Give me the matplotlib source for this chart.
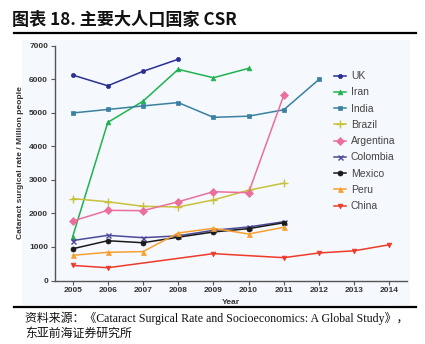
import matplotlib
matplotlib.use("Agg")
import matplotlib.pyplot as plt
from matplotlib.lines import Line2D

plt.rcParams['font.family'] = ['Liberation Sans', 'DejaVu Sans']

countries = ["UK", "Iran", "India", "Brazil", "Argentina", "Colombia", "Mexico", "Peru", "China"]

uk_years = [2005, 2006, 2007, 2008]
uk_vals = [6120, 5800, 6230, 6590]
iran_years = [2005, 2006, 2007, 2008, 2009, 2010]
iran_vals = [1300, 4710, 5340, 6290, 6040, 6320]
india_years = [2005, 2006, 2007, 2008, 2009, 2010, 2011, 2012]
india_vals = [4990, 5095, 5200, 5300, 4860, 4895, 5085, 5990]
brazil_years = [2005, 2006, 2007, 2008, 2009, 2010, 2011]
brazil_vals = [2440, 2345, 2210, 2190, 2400, 2690, 2900]
argentina_years = [2005, 2006, 2007, 2008, 2009, 2010, 2011]
argentina_vals = [1770, 2090, 2080, 2345, 2645, 2615, 5520]
colombia_years = [2005, 2006, 2007, 2008, 2009, 2010, 2011]
colombia_vals = [1190, 1345, 1275, 1330, 1495, 1595, 1750]
mexico_years = [2005, 2006, 2007, 2008, 2009, 2010, 2011]
mexico_vals = [945, 1185, 1125, 1290, 1445, 1545, 1720]
peru_years = [2005, 2006, 2007, 2008, 2009, 2010, 2011]
peru_vals = [750, 840, 860, 1415, 1555, 1385, 1585]
china_years = [2005, 2006, 2009, 2011, 2012, 2013, 2014]
china_vals = [450, 380, 800, 680, 820, 885, 1065]

x_ticks = list(range(2005, 2015))
y_ticks = [0, 1000, 2000, 3000, 4000, 5000, 6000, 7000]

series = [
    (uk_years, uk_vals, '#2b2f95', 'o', 3.0),
    (iran_years, iran_vals, '#1fb24f', '^', 3.4),
    (india_years, india_vals, '#3a80a0', 's', 3.4),
    (brazil_years, brazil_vals, '#c8c13a', '+', 6),
    (argentina_years, argentina_vals, '#ea6f9a', 'D', 4.2),
    (colombia_years, colombia_vals, '#4b4a9a', 'x', 3.6),
    (mexico_years, mexico_vals, '#1a1a1a', 'o', 3.6),
    (peru_years, peru_vals, '#f7a030', '^', 3.6),
    (china_years, china_vals, '#ee3a2a', 'v', 3.4),
]

W, H = 425, 344
fig = plt.figure(figsize=(W / 100, H / 100), dpi=100)

# light chart background (separate axes underneath)
bg = fig.add_axes([22 / W, 1 - 305 / H, (410 - 22) / W, (305 - 40) / H], zorder=-5)
bg.set_facecolor('#f5f8fc')
bg.set_xticks([])
bg.set_yticks([])
for s in bg.spines.values():
    s.set_visible(False)

ax = fig.add_axes([55 / W, 1 - 280.5 / H, (407 - 55) / W, (280.5 - 45.5) / H], zorder=1)
ax.set_facecolor('none')

for name, (xs, ys, c, m, ms) in zip(countries, series):
    mew = 1.0 if m in ('+', 'x') else 0.5
    ax.plot(xs, ys, color=c, marker=m, markersize=ms, linewidth=1.1,
            markeredgewidth=mew, label=name)

ax.set_xlim(2004.5, 2014.5)
ax.set_ylim(0, 7000)
ax.set_xticks(x_ticks)
ax.set_xticklabels([str(x) for x in x_ticks])
ax.set_yticks(y_ticks)
ax.set_yticklabels([str(y) for y in y_ticks])
for s in ['top', 'right']:
    ax.spines[s].set_visible(False)
for s in ['left', 'bottom']:
    ax.spines[s].set_color('#555555')
    ax.spines[s].set_linewidth(1.0)
ax.tick_params(axis='both', direction='out', length=3, width=0.8, color='#555555',
               labelsize=6, labelcolor='#333333', pad=2)
for lab in ax.get_xticklabels() + ax.get_yticklabels():
    lab.set_fontweight('bold')

ax.set_xlabel('Year', fontsize=6.1, fontweight='bold', color='#333333', labelpad=3)
ax.set_ylabel('Cataract surgical rate / Million people', fontsize=6.1,
              fontweight='bold', color='#333333', labelpad=4)

leg = ax.legend(loc='upper left', bbox_to_anchor=(329 / W, 1 - 66 / H),
                bbox_transform=fig.transFigure, frameon=False, fontsize=7.5,
                handlelength=1.15, handletextpad=0.45, labelspacing=0.6,
                borderpad=0)
for t in leg.get_texts():
    t.set_color('#444444')

# title and rules
fig.text(12 / W, 1 - 20 / H, '图表 18. 主要大人口国家 CSR',
         family=['Noto Sans CJK SC', 'DejaVu Sans'], fontsize=12.3,
         fontweight='bold', va='center', ha='left', color='#111111')
fig.add_artist(Line2D([14 / W, 416 / W], [1 - 33 / H, 1 - 33 / H],
                      transform=fig.transFigure, color='black', linewidth=1.6))
fig.add_artist(Line2D([14 / W, 416 / W], [1 - 307 / H, 1 - 307 / H],
                      transform=fig.transFigure, color='black', linewidth=1.6))

fig.text(25 / W, 1 - 318 / H,
         '资料来源：《Cataract Surgical Rate and Socioeconomics: A Global Study》，',
         family=['Liberation Serif', 'Noto Sans CJK SC'], fontsize=8.6,
         va='center', ha='left', color='#111111')
fig.text(25 / W, 1 - 334 / H, '东亚前海证券研究所',
         family=['Liberation Serif', 'Noto Sans CJK SC'], fontsize=8.6,
         va='center', ha='left', color='#111111')

fig.savefig('out.png', dpi=100)
